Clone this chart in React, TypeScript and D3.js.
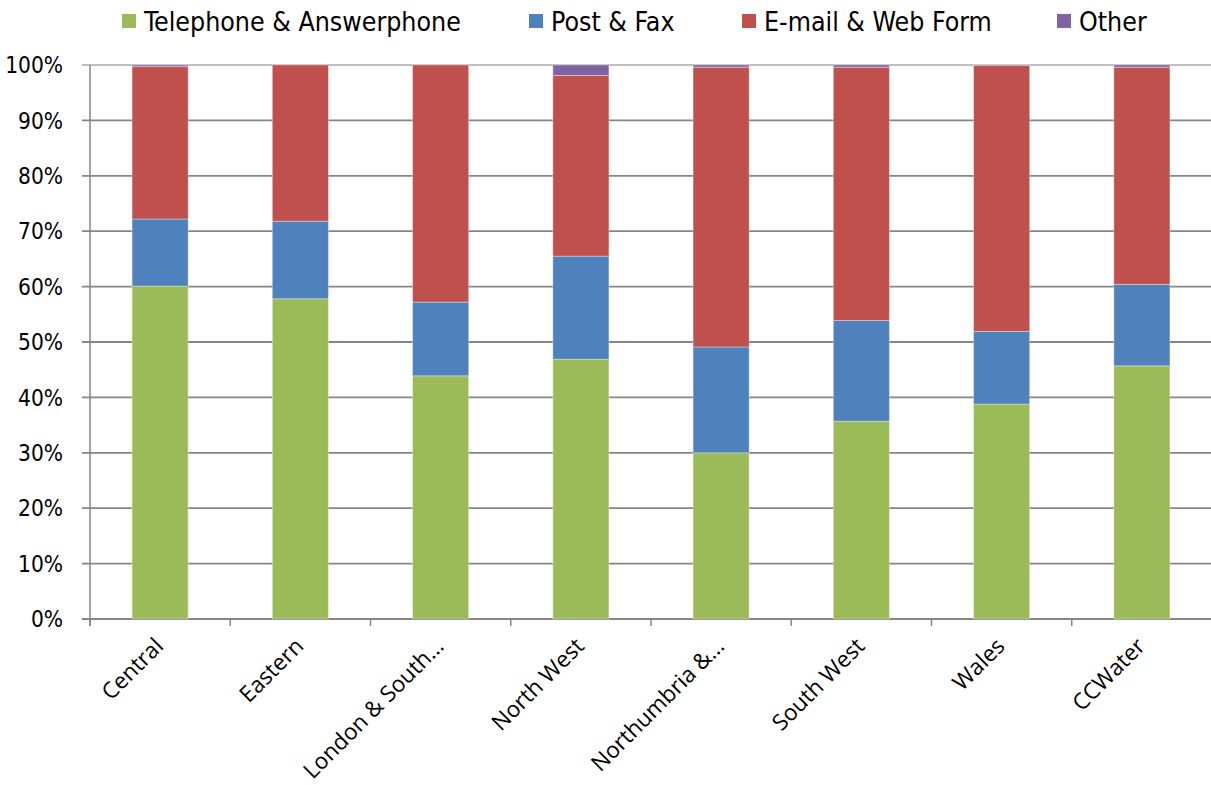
import React from "react";
import * as d3 from "d3";

const categories = ["Central", "Eastern", "London & South…", "North West", "Northumbria &…", "South West", "Wales", "CCWater"];
const seriesNames = ["Telephone & Answerphone", "Post & Fax", "E-mail & Web Form", "Other"];
const telephone = [60.1, 57.8, 43.9, 46.9, 30.0, 35.7, 38.8, 45.7];
const postFax = [12.1, 14.0, 13.3, 18.6, 19.1, 18.2, 13.1, 14.7];
const email = [27.5, 28.2, 42.8, 32.6, 50.5, 45.7, 48.0, 39.2];
const other = [0.3, 0.0, 0.0, 1.9, 0.4, 0.4, 0.1, 0.4];
const colors = ["#9BBB59", "#4F81BD", "#C0504D", "#8064A2"];
const yTicks = [0, 10, 20, 30, 40, 50, 60, 70, 80, 90, 100];

const W = 1211, H = 785;
const left = 90, right = 1212, top = 65, bottom = 619;

export default function App() {
  const x = d3.scaleBand<string>().domain(categories).range([left, right]).padding(0);
  const y = d3.scaleLinear().domain([0, 100]).range([bottom, top]);
  const rows = categories.map((c, i) => ({ cat: c, s0: telephone[i], s1: postFax[i], s2: email[i], s3: other[i] }));
  const stack = d3.stack<any>().keys(["s0", "s1", "s2", "s3"]);
  const layers = stack(rows);
  const bw = x.bandwidth() * 0.4;
  const grid = "#868686";
  const tickFont = "'DejaVu Sans Condensed', 'DejaVu Sans', sans-serif";
  const labelFont = "'Open Sans', 'Noto Sans', sans-serif";

  const legendX = [122, 529, 742, 1057];

  return (
    <svg width={W} height={H} style={{ position: "absolute", left: 0, top: 0, background: "#fff" }}>
      {/* gridlines */}
      {yTicks.map((t) => (
        <line key={"g" + t} x1={left - 8} x2={right} y1={y(t)} y2={y(t)} stroke={grid} strokeWidth={t === 100 ? 1.5 : 1.8} opacity={t === 100 ? 0.7 : 1} />
      ))}
      {/* y axis */}
      <line x1={left} x2={left} y1={top} y2={bottom + 7} stroke={grid} strokeWidth={1.5} />
      {/* x ticks */}
      {categories.map((c, i) => (
        <line key={"xt" + i} x1={x(c)!} x2={x(c)!} y1={bottom} y2={bottom + 7} stroke={grid} strokeWidth={1.5} />
      ))}
      {/* bars */}
      {layers.map((layer, li) => (
        <g key={"l" + li} fill={colors[li]}>
          {layer.map((d: any, i: number) => {
            const h = y(d[0]) - y(d[1]);
            if (h <= 0) return null;
            return (
              <rect key={i} x={x(categories[i])! + (x.bandwidth() - bw) / 2} y={y(d[1])} width={bw} height={h} stroke="#ffffff" strokeOpacity={0.35} strokeWidth={1} />
            );
          })}
        </g>
      ))}
      {/* y tick labels */}
      {yTicks.map((t) => (
        <text key={"yl" + t} x={left - 27} y={y(t)} dy="0.36em" textAnchor="end" fontFamily={tickFont} fontSize={22.5} fill="#000">
          {t + "%"}
        </text>
      ))}
      {/* x labels */}
      {categories.map((c, i) => {
        const cx = x(c)! + x.bandwidth() / 2 - 1;
        const cy = bottom + 23;
        return (
          <text key={"xl" + i} transform={`translate(${cx},${cy}) rotate(-45)`} textAnchor="end" dy="0.35em" fontFamily={labelFont} fontSize={22.5} fill="#000">
            {c}
          </text>
        );
      })}
      {/* legend */}
      {seriesNames.map((s, i) => (
        <g key={"lg" + i}>
          <rect x={legendX[i]} y={14} width={14} height={14} fill={colors[i]} />
          <text x={legendX[i] + 22} y={21} dy="0.36em" fontFamily={tickFont} fontSize={26.5} fill="#000">
            {s}
          </text>
        </g>
      ))}
    </svg>
  );
}
